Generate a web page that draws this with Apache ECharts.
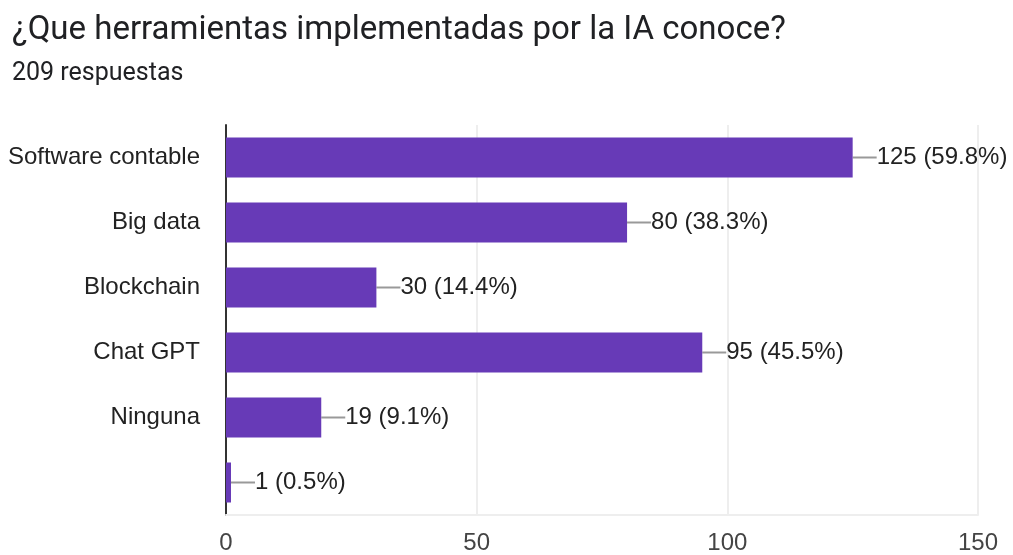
<!DOCTYPE html>
<html>
<head>
<meta charset="utf-8">
<script src="https://cdn.jsdelivr.net/npm/echarts@6/dist/echarts.min.js"></script>
<style>
  html, body { margin: 0; padding: 0; background: #fff; }
  #chart { width: 1013px; height: 555px; }
</style>
</head>
<body>
<div id="chart"></div>
<script>
var categories = ['Software contable', 'Big data', 'Blockchain', 'Chat GPT', 'Ninguna', '']
var counts = [125, 80, 30, 95, 19, 1]
var percents = ['59.8%', '38.3%', '14.4%', '45.5%', '9.1%', '0.5%']
var xTicks = [0, 50, 100, 150]

var chart = echarts.init(document.getElementById('chart'))
chart.setOption({
  animation: false,
  title: {
    text: '¿Que herramientas implementadas por la IA conoce?',
    subtext: '209 respuestas',
    left: 7,
    top: 9,
    itemGap: 14,
    textStyle: { fontFamily: 'Roboto', fontSize: 33, fontWeight: 'normal', color: '#202124' },
    subtextStyle: { fontFamily: 'Roboto', fontSize: 25, fontWeight: 'normal', color: '#202124' }
  },
  grid: { left: 226, right: 35, top: 125, bottom: 36, containLabel: false },
  xAxis: {
    type: 'value',
    min: xTicks[0],
    max: xTicks[xTicks.length - 1],
    interval: 50,
    axisLine: { show: true, lineStyle: { color: '#eeeeee', width: 2 } },
    axisTick: { show: false },
    splitLine: { show: true, lineStyle: { color: '#eeeeee', width: 2 } },
    axisLabel: { fontFamily: 'Liberation Sans', fontSize: 24, color: '#444', margin: 16 }
  },
  yAxis: {
    type: 'category',
    inverse: true,
    data: categories,
    axisLine: { show: true, lineStyle: { color: '#333', width: 2 } },
    axisTick: { show: false },
    axisLabel: { fontFamily: 'Liberation Sans', fontSize: 24, color: '#222', margin: 26 }
  },
  series: [{
    type: 'bar',
    data: counts,
    barWidth: 40,
    itemStyle: { color: '#673ab7' },
    label: {
      show: true,
      position: 'right',
      distance: 0,
      fontFamily: 'Liberation Sans',
      fontSize: 24,
      color: '#222',
      formatter: function (p) { return p.value + ' (' + percents[p.dataIndex] + ')' }
    },
    labelLayout: { dx: 24 },
    labelLine: { show: true, lineStyle: { color: '#999', width: 2 } }
  }]
})
</script>
</body>
</html>
